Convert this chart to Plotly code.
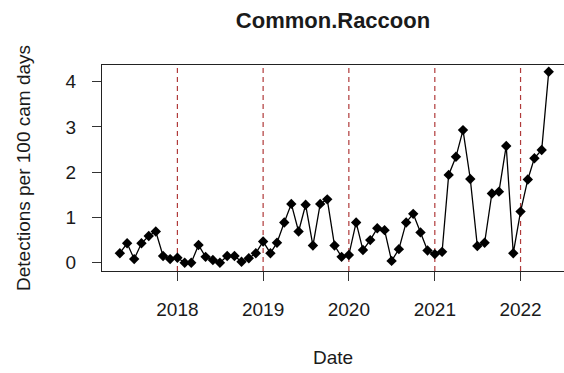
import plotly.graph_objects as go
import pandas as pd

# Monthly detection rate (detections per 100 camera days), May 2017 - May 2022
months = pd.date_range("2017-05-01", "2022-05-01", freq="MS").strftime("%Y-%m-%d").tolist()
rate = [
    # 2017 May-Dec
    0.21, 0.43, 0.08, 0.43, 0.59, 0.69, 0.15, 0.08,
    # 2018
    0.11, 0.00, 0.00, 0.39, 0.13, 0.06, 0.00, 0.15, 0.15, 0.02, 0.10, 0.21,
    # 2019
    0.47, 0.21, 0.44, 0.89, 1.30, 0.69, 1.28, 0.38, 1.30, 1.40, 0.38, 0.13,
    # 2020
    0.17, 0.89, 0.28, 0.50, 0.76, 0.72, 0.04, 0.30, 0.89, 1.08, 0.67, 0.27,
    # 2021
    0.19, 0.24, 1.94, 2.34, 2.93, 1.85, 0.37, 0.44, 1.53, 1.57, 2.58, 0.21,
    # 2022 Jan-May
    1.13, 1.84, 2.31, 2.49, 4.22,
]
year_starts = ["2018-01-01", "2019-01-01", "2020-01-01", "2021-01-01", "2022-01-01"]
year_labels = ["2018", "2019", "2020", "2021", "2022"]
y_ticks = [0, 1, 2, 3, 4]

FONT = "Liberation Sans, Arial, sans-serif"
INK = "#1a1a1a"

fig = go.Figure()
fig.add_trace(go.Scatter(
    x=months, y=rate, mode="lines+markers",
    line=dict(color="black", width=1.3),
    marker=dict(symbol="diamond", size=8, color="black"),
    showlegend=False,
))

# dashed year separators
for d in year_starts:
    fig.add_shape(type="line", xref="x", yref="paper", x0=d, x1=d, y0=0, y1=1,
                  line=dict(color="#b03a3a", width=1.2, dash="5px,4px"), layer="below")

fig.update_layout(
    width=564, height=373,
    margin=dict(l=102, r=0, t=65, b=102),
    paper_bgcolor="white", plot_bgcolor="white",
    font=dict(family=FONT, color=INK, size=19),
    title=dict(text="<b>Common.Raccoon</b>", x=0.5, xref="paper",
               y=1 - 20 / 373, yref="container", yanchor="middle",
               font=dict(size=22, color=INK)),
    annotations=[
        dict(text="Detections per 100 cam days", xref="paper", yref="paper",
             x=(23 - 102) / 462, y=0.5, xanchor="center", yanchor="middle",
             textangle=-90, showarrow=False, font=dict(size=19, color=INK)),
        dict(text="Date", xref="paper", yref="paper",
             x=0.5, y=(271 - 357) / 206, xanchor="center", yanchor="middle",
             showarrow=False, font=dict(size=19, color=INK)),
    ],
)

fig.update_xaxes(
    type="date", range=["2017-02-14", "2022-07-05"],
    tickvals=year_starts, ticktext=year_labels,
    ticks="outside", ticklen=9, tickcolor="#333", tickwidth=1.2,
    ticklabelstandoff=12,
    showline=True, linecolor="#222", linewidth=1.3, mirror=True,
    showgrid=False, zeroline=False,
)
fig.update_yaxes(
    range=[-0.183, 4.369], tickvals=y_ticks,
    ticks="outside", ticklen=9, tickcolor="#333", tickwidth=1.2,
    ticklabelstandoff=12,
    showline=True, linecolor="#222", linewidth=1.3, mirror=False,
    showgrid=False, zeroline=False,
)

fig.write_html("out.html")
